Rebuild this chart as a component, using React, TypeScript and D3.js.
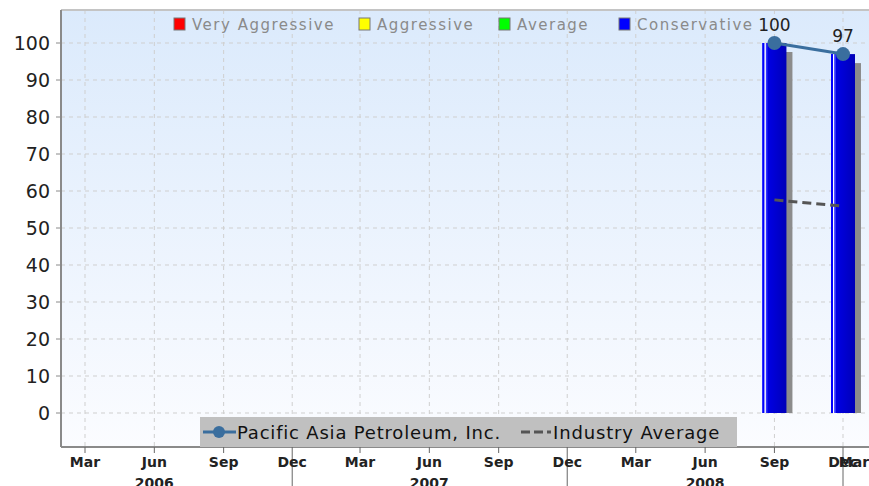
import * as d3 from 'd3'

// chart data
const periods = ['2008-09-01', '2008-12-01']
const companyScores = [100, 97]
const industryAverage = [57.6, 55.9]
const scoreCategory = ['Conservative', 'Conservative']
const legendNames = ['Very Aggressive', 'Aggressive', 'Average', 'Conservative']
const legendColors = ['#ff0000', '#ffff00', '#00ff00', '#0000ff']
const yTicks = [0, 10, 20, 30, 40, 50, 60, 70, 80, 90, 100]
const monthNames = ['Mar', 'Jun', 'Sep', 'Dec']
const seriesNames = ['Pacific Asia Petroleum, Inc.', 'Industry Average']

const W = 869
const H = 486
const plotLeft = 61
const plotTop = 10
const plotBottom = 447
const font = "'DejaVu Sans', Verdana, sans-serif"

const parse = d3.timeParse('%Y-%m-%d')

const App: React.FC = () => {
  const x = d3
    .scaleTime()
    .domain([new Date(2006, 2, 1), new Date(2008, 11, 1)])
    .range([85, 843])
  const y = d3.scaleLinear().domain([0, 100]).range([413, 43])

  // quarterly ticks, Mar 2006 .. Mar 2009
  const quarters = d3.timeMonth.range(new Date(2006, 2, 1), new Date(2009, 3, 1), 3)
  const dates = periods.map((p) => parse(p) as Date)
  const barW = 24

  const line = d3
    .line<number>()
    .x((_, i) => x(dates[i]))
    .y((d) => y(d))

  const catColor = (c: string) => legendColors[legendNames.indexOf(c)]

  const legendX = [174, 359, 499, 619]

  return (
    <svg width={W} height={H} style={{ position: 'absolute', left: 0, top: 0 }} fontFamily={font}>
      <defs>
        <linearGradient id="bg" x1="0" y1="0" x2="0" y2="1">
          <stop offset="0" stopColor="#dbeafc" />
          <stop offset="1" stopColor="#fbfcff" />
        </linearGradient>
        <linearGradient id="bar" x1="0" y1="0" x2="1" y2="0">
          <stop offset="0" stopColor="#0000f0" />
          <stop offset="1" stopColor="#0000b8" />
        </linearGradient>
      </defs>
      <rect x={0} y={0} width={W} height={H} fill="#ffffff" />
      <rect x={plotLeft} y={plotTop} width={W - plotLeft} height={plotBottom - plotTop} fill="url(#bg)" />

      {/* grid */}
      {yTicks.map((t) => (
        <line
          key={'gy' + t}
          x1={plotLeft}
          x2={W}
          y1={y(t)}
          y2={y(t)}
          stroke="#cfcfcf"
          strokeDasharray="4,4"
        />
      ))}
      {quarters.map((q, i) => (
        <line
          key={'gx' + i}
          x1={x(q)}
          x2={x(q)}
          y1={plotTop}
          y2={plotBottom}
          stroke="#cfcfcf"
          strokeDasharray="4,4"
        />
      ))}

      {/* frame */}
      <line x1={plotLeft} x2={W} y1={plotTop} y2={plotTop} stroke="#c4c4c4" strokeWidth={2} />
      <line x1={plotLeft} x2={plotLeft} y1={plotTop} y2={plotBottom} stroke="#8a8a8a" strokeWidth={2} />
      <line x1={plotLeft} x2={W} y1={plotBottom} y2={plotBottom} stroke="#8a8a8a" strokeWidth={2} />

      {/* y axis */}
      {yTicks.map((t) => (
        <g key={'yt' + t}>
          <line x1={plotLeft - 5} x2={plotLeft} y1={y(t)} y2={y(t)} stroke="#8a8a8a" />
          <text x={50} y={y(t) + 7} textAnchor="end" fontSize={19} fill="#222">
            {t}
          </text>
        </g>
      ))}

      {/* x axis */}
      {quarters.map((q, i) => {
        const m = q.getMonth()
        const isDec = m === 11
        const px = x(q)
        const lx = Math.min(px, W - 15)
        return (
          <g key={'xt' + i}>
            {px <= W && (
              <line x1={px} x2={px} y1={plotBottom} y2={isDec ? H : plotBottom + 6} stroke="#666" />
            )}
            <text x={lx} y={467} textAnchor="middle" fontSize={14} fontWeight="bold" fill="#222">
              {monthNames[Math.floor(m / 3)]}
            </text>
            {m === 5 && (
              <text x={px} y={488} textAnchor="middle" fontSize={14} fontWeight="bold" fill="#222">
                {q.getFullYear()}
              </text>
            )}
          </g>
        )
      })}

      {/* bars with shadow */}
      {companyScores.map((v, i) => {
        const cx = x(dates[i])
        const x0 = cx - barW / 2
        return (
          <g key={'b' + i}>
            <rect x={x0 + 6} y={y(v) + 9} width={barW} height={y(0) - y(v) - 9} fill="#8c8c8c" />
            <rect x={x0} y={y(v)} width={barW} height={y(0) - y(v)} fill="url(#bar)" />
            <rect x={x0} y={y(v)} width={2} height={y(0) - y(v)} fill={catColor(scoreCategory[i])} />
            <rect x={x0 + 2} y={y(v)} width={1.5} height={y(0) - y(v)} fill="#ffffff" />
            <rect x={x0 + 3.5} y={y(v)} width={1.5} height={y(0) - y(v)} fill="#3030ff" />
          </g>
        )
      })}

      {/* industry average */}
      <path
        d={line(industryAverage) ?? undefined}
        fill="none"
        stroke="#555"
        strokeWidth={3}
        strokeDasharray="9,5"
      />

      {/* company line */}
      <path d={line(companyScores) ?? undefined} fill="none" stroke="#3a6e9e" strokeWidth={3} />
      {companyScores.map((v, i) => (
        <g key={'p' + i}>
          <circle cx={x(dates[i])} cy={y(v)} r={7} fill="#3a6e9e" />
          <text x={x(dates[i])} y={y(v) - 12} textAnchor="middle" fontSize={17} fill="#222">
            {v}
          </text>
        </g>
      ))}

      {/* top legend */}
      {legendNames.map((n, i) => (
        <g key={'lg' + i}>
          <rect x={legendX[i]} y={18} width={11} height={12} fill={legendColors[i]} stroke="#777" />
          <text x={legendX[i] + 18} y={30} fontSize={15} fill="#8a8a8a" letterSpacing={1.5}>
            {n}
          </text>
        </g>
      ))}

      {/* bottom legend */}
      <rect x={200} y={417} width={537} height={30} fill="#c0c0c0" />
      <line x1={203} x2={236} y1={432} y2={432} stroke="#3a6e9e" strokeWidth={3} />
      <circle cx={219} cy={432} r={6} fill="#3a6e9e" />
      <text x={237} y={439} fontSize={18} fill="#111" letterSpacing={0.8}>
        {seriesNames[0]}
      </text>
      <line x1={521} x2={551} y1={432} y2={432} stroke="#555" strokeWidth={3} strokeDasharray="9,4" />
      <text x={553} y={439} fontSize={18} fill="#111" letterSpacing={0.85}>
        {seriesNames[1]}
      </text>
    </svg>
  )
}

export default App
